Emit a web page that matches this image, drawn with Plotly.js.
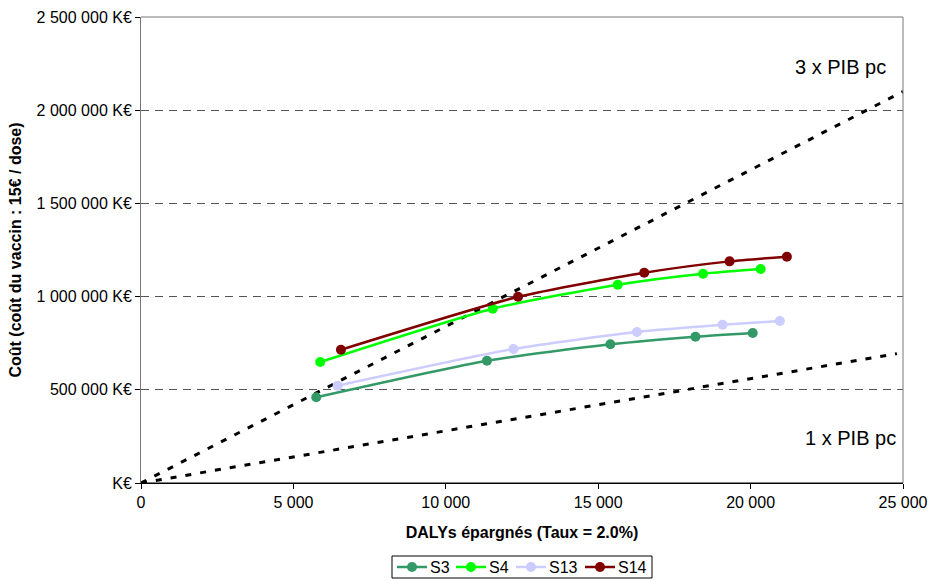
<!DOCTYPE html>
<html><head><meta charset="utf-8">
<script src="https://cdn.plot.ly/plotly-3.0.1.min.js"></script>
<style>html,body{margin:0;padding:0;background:#fff}#c{width:931px;height:580px}</style>
</head><body><div id="c"></div>
<script>
var seriesNames = ["S3", "S4", "S13", "S14"];
var seriesColors = ["#339966", "#00ff00", "#ccccff", "#800000"];
var s3x = [5750, 11350, 15400, 18190, 20070];
var s3y = [460000, 656000, 744000, 785000, 805000];
var s4x = [5880, 11540, 15640, 18440, 20330];
var s4y = [649000, 935000, 1064000, 1123000, 1148000];
var s13x = [6450, 12220, 16270, 19080, 20960];
var s13y = [522000, 719000, 810000, 849000, 869000];
var s14x = [6560, 12370, 16510, 19310, 21190];
var s14y = [715000, 999000, 1128000, 1189000, 1214000];
var thresholdX = [0, 25000];
var threshold3Y = [0, 2100000];
var threshold1X = [0, 24800];
var threshold1Y = [0, 694000];
var yTickVals = [0, 500000, 1000000, 1500000, 2000000, 2500000];
var yTickText = ["K€", "500 000 K€", "1 000 000 K€", "1 500 000 K€", "2 000 000 K€", "2 500 000 K€"];
var xTickVals = [0, 5000, 10000, 15000, 20000, 25000];
var xTickText = ["0", "5 000", "10 000", "15 000", "20 000", "25 000"];

// plot area in pixels, used to place the hand-drawn legend
var PL = 141, PR = 903, PT = 17, PB = 483;
function px(x) { return (x - PL) / (PR - PL); }
function py(y) { return (PB - y) / (PB - PT); }

var xs = [s3x, s4x, s13x, s14x];
var ys = [s3y, s4y, s13y, s14y];
var traces = [];
traces.push({x: thresholdX, y: threshold3Y, mode: "lines", showlegend: false, hoverinfo: "skip",
  line: {color: "#000", width: 3, dash: "6px,9px"}});
traces.push({x: threshold1X, y: threshold1Y, mode: "lines", showlegend: false, hoverinfo: "skip",
  line: {color: "#000", width: 3, dash: "6px,9px"}});
for (var i = 0; i < 4; i++) {
  traces.push({x: xs[i], y: ys[i], name: seriesNames[i], mode: "lines+markers", showlegend: false,
    line: {color: seriesColors[i], width: 2.5, shape: "spline", smoothing: 0.6},
    marker: {color: seriesColors[i], size: 10}});
}
var fam = "Liberation Sans, Arial, sans-serif";

var shapes = [
  {type: "line", xref: "paper", yref: "paper", x0: 0, x1: 1, y0: 1, y1: 1, line: {color: "#777", width: 1}},
  {type: "line", xref: "paper", yref: "paper", x0: 1, x1: 1, y0: 0, y1: 1, line: {color: "#777", width: 1}},
  {type: "line", xref: "paper", yref: "paper", x0: 0, x1: 1, y0: 0, y1: 0, line: {color: "#000", width: 1}},
  {type: "rect", xref: "paper", yref: "paper", x0: px(392), x1: px(652), y0: py(578), y1: py(556),
    line: {color: "#000", width: 1}, fillcolor: "rgba(0,0,0,0)"}
];
var annotations = [
  {xref: "paper", yref: "paper", x: 0.980, y: 0.893, xanchor: "right", yanchor: "middle", showarrow: false,
    text: "3 x PIB pc", font: {family: fam, size: 20, color: "#000"}},
  {xref: "paper", yref: "paper", x: 0.993, y: 0.097, xanchor: "right", yanchor: "middle", showarrow: false,
    text: "1 x PIB pc", font: {family: fam, size: 20, color: "#000"}}
];
var legStarts = [397, 456, 516, 585];
var legY = 567;
for (var j = 0; j < 4; j++) {
  var a = legStarts[j], b = a + 30, m = a + 15;
  shapes.push({type: "line", xref: "paper", yref: "paper", x0: px(a), x1: px(b), y0: py(legY), y1: py(legY),
    line: {color: seriesColors[j], width: 2.5}});
  shapes.push({type: "circle", xref: "paper", yref: "paper", xsizemode: "pixel", ysizemode: "pixel",
    xanchor: px(m), yanchor: py(legY), x0: -5, x1: 5, y0: -5, y1: 5,
    line: {color: seriesColors[j], width: 0}, fillcolor: seriesColors[j]});
  annotations.push({xref: "paper", yref: "paper", x: px(b + 2), y: py(legY), xanchor: "left", yanchor: "middle",
    showarrow: false, text: seriesNames[j], font: {family: fam, size: 16, color: "#000"}, borderpad: 0});
}

var layout = {
  width: 931, height: 580,
  margin: {l: PL, r: 931 - PR, t: PT, b: 580 - PB},
  paper_bgcolor: "#fff", plot_bgcolor: "#fff",
  font: {family: fam, size: 16, color: "#000"},
  showlegend: false,
  xaxis: {range: [0, 25000], tickvals: xTickVals, ticktext: xTickText, automargin: false,
    showgrid: false, zeroline: false, showline: true, linecolor: "#000", linewidth: 1,
    ticks: "outside", ticklen: 5, tickcolor: "#000", tickfont: {family: fam, size: 16},
    title: {text: "<b>DALYs épargnés (Taux = 2.0%)</b>", font: {family: fam, size: 16}, standoff: 16}},
  yaxis: {range: [0, 2500000], tickvals: yTickVals, ticktext: yTickText, automargin: false,
    showgrid: true, gridcolor: "#555", griddash: "8px,6px", gridwidth: 1,
    zeroline: false, showline: true, linecolor: "#777", linewidth: 1,
    ticks: "outside", ticklen: 5, tickcolor: "#000", tickfont: {family: fam, size: 16},
    title: {text: "<b>Coût (coût du vaccin : 15€ / dose)</b>", font: {family: fam, size: 16}, standoff: 10}},
  shapes: shapes,
  annotations: annotations
};
Plotly.newPlot("c", traces, layout, {displayModeBar: false, staticPlot: true});
</script></body></html>
